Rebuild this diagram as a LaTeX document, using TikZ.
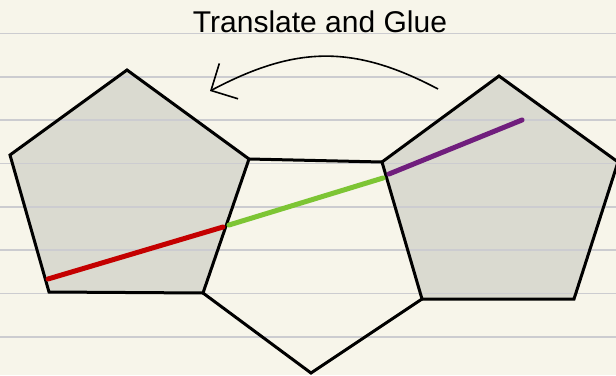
\documentclass[tikz,border=0pt]{standalone}
\usepackage{fontspec}
\newfontfamily\labfont{Liberation Sans}
\usetikzlibrary{arrows.meta}
\definecolor{paper}{RGB}{247,245,234}
\definecolor{rule}{RGB}{204,204,208}
\definecolor{shade}{RGB}{218,218,208}
\definecolor{segred}{RGB}{196,0,0}
\definecolor{seggreen}{RGB}{125,197,52}
\definecolor{segpurple}{RGB}{112,30,125}
\tikzset{
  outline/.style={draw=black,line width=3pt,line join=miter},
  shaded/.style={fill=shade},
  seg/.style={line width=5pt,line cap=round},
  ruleline/.style={draw=rule,line width=1.6pt},
  title/.style={font=\labfont\fontsize{30}{36}\selectfont,anchor=base,inner sep=0pt},
  curvearrow/.style={draw=black,line width=1.6pt,-{Straight Barb[length=20pt,width=40pt,line width=1.6pt]}}
}
\begin{document}
\begin{tikzpicture}[x=1pt,y=-1pt]
\useasboundingbox (0,0) rectangle (616,375);
\fill[paper] (0,0) rectangle (616,375);
% left pentagon
\coordinate (LT) at (127,70);
\coordinate (LL) at (10,155);
\coordinate (LBL) at (49,292);
\coordinate (LBR) at (203,293);
\coordinate (LR) at (249,159);
% right pentagon
\coordinate (RT) at (499,76);
\coordinate (RL) at (382,162);
\coordinate (RBL) at (422,299);
\coordinate (RBR) at (574,299);
\coordinate (RR) at (618,162);
% middle bottom
\coordinate (MB) at (311,373);
% segments
\coordinate (r1) at (48,279);
\coordinate (r2) at (223,227);
\coordinate (g1) at (229,225);
\coordinate (g2) at (383,178);
\coordinate (p1) at (389,174);
\coordinate (p2) at (522,120);
% arrow
\coordinate (a1) at (438,89);
\coordinate (a2) at (210,91);

\fill[shaded] (LT) -- (LL) -- (LBL) -- (LBR) -- (LR) -- cycle;
\fill[shaded] (RT) -- (RL) -- (RBL) -- (RBR) -- (RR) -- cycle;
\foreach \k in {0,...,7}
  \draw[ruleline] (0,{33.5+43.35*\k}) -- (616,{33.5+43.35*\k});

\draw[outline] (LT) -- (LL) -- (LBL) -- (LBR) -- (LR) -- cycle;
\draw[outline] (RT) -- (RL) -- (RBL) -- (RBR) -- (RR) -- cycle;
\draw[outline] (LR) -- (RL);
\draw[outline] (LBR) -- (MB) -- (RBL);

\draw[seg,segred] (r1) -- (r2);
\draw[seg,seggreen] (g1) -- (g2);
\draw[seg,segpurple] (p1) -- (p2);

\node[title] (ttl) at (320,32) {Translate and Glue};
\draw[curvearrow] (a1) .. controls (353,44) and (295,46) .. (a2);
\end{tikzpicture}
\end{document}
